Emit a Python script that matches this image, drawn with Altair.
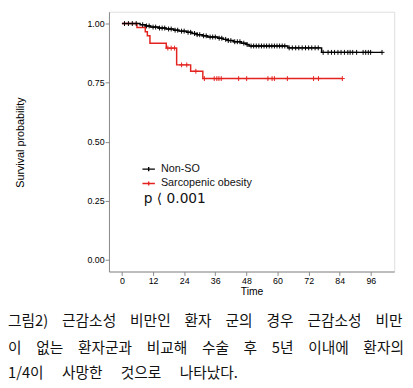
import altair as alt
import numpy as np
import pandas as pd

GROUPS = ["Non-SO", "Sarcopenic obesity"]
COLORS = ["#000000", "#e3231f"]

# Kaplan-Meier steps (time in months, survival after the event)
nonso_times = [0, 7, 9, 11, 14, 17, 20, 22, 25, 27, 29, 31, 33, 37, 39, 41, 43, 46, 48, 49, 64, 77]
nonso_surv = [1.0, 0.995, 0.990, 0.985, 0.981, 0.977, 0.972, 0.968, 0.963, 0.958, 0.953, 0.948,
              0.943, 0.938, 0.933, 0.928, 0.923, 0.917, 0.911, 0.905, 0.897, 0.878]
nonso_end = 100.3
nonso_censor = [1, 2.5, 4, 5.5, 8, 9.5, 10.5, 12, 13, 14.5, 15.5, 16.5, 18, 19, 20.5, 21.5, 23, 24,
                25.5, 26.5, 28, 29, 30, 31.5, 32.5, 34, 35, 36, 37.5, 38.5, 40, 41, 42, 43.5, 44.5,
                45.5, 47, 48.3, 49.8, 50.8, 51.8, 52.8, 53.8, 54.8, 55.8, 56.8, 57.8, 58.8, 59.8,
                60.8, 61.8, 62.8, 64.5, 65.7, 67.0, 68.2, 69.5, 70.8, 72.0, 73.2, 74.5, 75.7,
                77.6, 79.5, 80.8, 82.0, 83.3, 84.5, 85.8, 87.1, 88.0, 89.0, 90.5, 93.0, 94.0,
                95.0, 95.9, 100.3]

so_times = [0, 5.8, 9.0, 9.8, 10.8, 17.1, 21.1, 26.5, 31.2]
so_surv = [1.0, 0.983, 0.965, 0.948, 0.917, 0.896, 0.825, 0.798, 0.767]
so_end = 85.0
so_censor = [17.7, 19.0, 20.3, 23.0, 25.0, 28.5, 31.8, 35.6, 36.6, 37.4, 38.3, 45.0, 48.1,
             56.3, 57.9, 58.8, 63.8, 73.9, 75.8, 85.0]

x_ticks = [0, 12, 24, 36, 48, 60, 72, 84, 96]
y_ticks = [0.0, 0.25, 0.5, 0.75, 1.0]

p_text = "p \u27e8 0.001"
SP1 = "\u2002\u2005\u2009"
SP2 = "\u2002\u2002"
SP3 = "\u2002\u2002\u2005"
caption = [
    SP1.join(["그림2)", "근감소성", "비만인", "환자", "군의", "경우", "근감소성", "비만"]),
    SP2.join(["이", "없는", "환자군과", "비교해", "수술", "후", "5년", "이내에", "환자의"]),
    SP3.join(["1/4이", "사망한", "것으로", "나타났다."]),
]


def steps(group, times, surv, end):
    t = list(times) + [end]
    s = list(surv) + [surv[-1]]
    return pd.DataFrame({"time": t, "surv": s, "group": group})


def censors(group, times, surv, ctimes):
    idx = np.searchsorted(np.array(times), np.array(ctimes), side="right") - 1
    return pd.DataFrame({"time": ctimes, "surv": [surv[i] for i in idx], "group": group})


line_df = pd.concat([steps(GROUPS[0], nonso_times, nonso_surv, nonso_end),
                     steps(GROUPS[1], so_times, so_surv, so_end)])
cens_df = pd.concat([censors(GROUPS[0], nonso_times, nonso_surv, nonso_censor),
                     censors(GROUPS[1], so_times, so_surv, so_censor)])

FONT = "Liberation Sans"
xscale = alt.Scale(domain=[-5, 105], nice=False, zero=False)
yscale = alt.Scale(domain=[-0.05, 1.05], nice=False, zero=False)
cscale = alt.Scale(domain=GROUPS, range=COLORS)


def xaxis():
    return alt.Axis(values=x_ticks, title="Time", grid=False, labelFontSize=9, titleFontSize=10.5,
                    labelPadding=1, tickSize=4, titleFontWeight="normal", titleY=20,
                    titleBaseline="middle", labelFlush=False, labelOverlap=False)


def yaxis():
    return alt.Axis(values=y_ticks, format=".2f", title="Survival probability", grid=False,
                    labelFontSize=9, titleFontSize=11, labelPadding=1, tickSize=4,
                    titleFontWeight="normal", titleX=-90, titleY=133, titleAngle=270,
                    titleBaseline="middle", titleAlign="center", labelOverlap=False)


lines = alt.Chart(line_df).mark_line(interpolate="step-after", strokeWidth=1.5).encode(
    x=alt.X("time:Q", scale=xscale, axis=xaxis()),
    y=alt.Y("surv:Q", scale=yscale, axis=yaxis()),
    color=alt.Color("group:N", scale=cscale, legend=alt.Legend(
        title=None, orient="none", legendX=33, legendY=153, padding=0,
        symbolType="M-1,0H1M0,-0.33V0.33", symbolSize=161, symbolStrokeWidth=1.4,
        labelFontSize=11, labelFont=FONT, labelOffset=5, rowPadding=1.7,
        labelColor="#111")),
    detail="group:N",
)

marks = alt.Chart(cens_df).mark_point(shape="M-1,0H1M0,-1V1", filled=False, size=25,
                                       strokeWidth=1, opacity=1).encode(
    x=alt.X("time:Q", scale=xscale, axis=xaxis()),
    y=alt.Y("surv:Q", scale=yscale, axis=yaxis()),
    color=alt.Color("group:N", scale=cscale, legend=None),
)

ptext = alt.Chart(pd.DataFrame({"t": [p_text]})).mark_text(
    align="left", baseline="middle", fontSize=14, font="DejaVu Sans", color="#111"
).encode(x=alt.value(35.5), y=alt.value(191), text="t:N")

cap_layers = []
for line, yv in zip(caption, [316, 343, 368.5]):
    cap_layers.append(alt.Chart(pd.DataFrame({"t": [line]})).mark_text(
        align="left", baseline="middle", fontSize=15, font="Noto Sans CJK KR", color="#111"
    ).encode(x=alt.value(-103), y=alt.value(yv), text="t:N"))

chart = alt.layer(lines, marks, ptext, *cap_layers).properties(
    width=291, height=265,
    autosize=alt.AutoSizeParams(type="none"),
    padding={"left": 103, "top": 0, "right": 11, "bottom": 115},
).configure_view(stroke=None).configure_axis(
    domainColor="#000", tickColor="#000", labelColor="#222", titleColor="#111",
    labelFont=FONT, titleFont=FONT, domainWidth=1.2, tickWidth=1.2,
).configure_axisX(labelOverlap=False).configure(background="white")

chart.save("out.html", embed_options={"renderer": "svg", "actions": False})
